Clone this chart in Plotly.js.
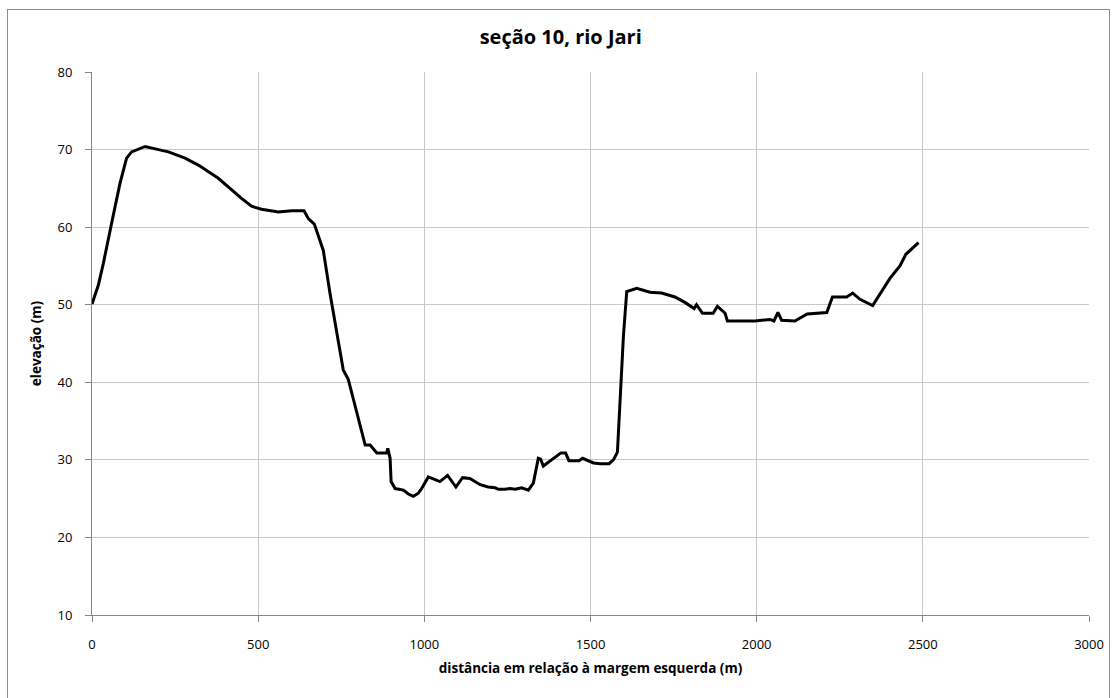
<!DOCTYPE html>
<html>
<head>
<meta charset="utf-8">
<script src="https://cdn.plot.ly/plotly-3.0.1.min.js"></script>
<style>
  html, body { margin: 0; padding: 0; background: #fff; }
  #frame { position: absolute; left: 7px; top: 9px; width: 1103px; height: 700px; border: 1px solid #8c8c8c; box-sizing: border-box; }
  #chart { position: absolute; left: 0; top: 0; width: 1117px; height: 698px; }
</style>
</head>
<body>
<div id="frame"></div>
<div id="chart"></div>
<script>
const distancia = [0, 19, 34, 49, 59, 84, 104, 119, 160, 210, 230, 280, 320, 380, 420, 450, 480, 510, 561, 601, 638, 651, 669, 696, 716, 741, 756, 771, 806, 822, 837, 857, 887, 890, 897, 900, 912, 937, 952, 967, 982, 992, 1012, 1047, 1070, 1095, 1115, 1137, 1168, 1192, 1213, 1223, 1243, 1258, 1273, 1293, 1313, 1328, 1343, 1350, 1358, 1388, 1411, 1425, 1435, 1466, 1476, 1509, 1529, 1556, 1569, 1581, 1589, 1599, 1609, 1639, 1679, 1714, 1754, 1784, 1812, 1819, 1837, 1869, 1882, 1905, 1912, 1995, 2040, 2052, 2064, 2075, 2115, 2152, 2211, 2228, 2271, 2289, 2311, 2326, 2349, 2401, 2431, 2449, 2487];
const elevacao = [50.1, 52.5, 55.3, 58.6, 60.5, 65.6, 68.9, 69.7, 70.4, 69.9, 69.7, 68.9, 68.0, 66.3, 64.8, 63.7, 62.7, 62.3, 61.95, 62.1, 62.1, 61.1, 60.4, 57.0, 51.5, 45.0, 41.6, 40.4, 34.3, 31.9, 31.9, 30.9, 30.9, 31.5, 30.2, 27.2, 26.3, 26.1, 25.6, 25.3, 25.7, 26.3, 27.8, 27.2, 28.0, 26.5, 27.7, 27.6, 26.8, 26.5, 26.4, 26.2, 26.2, 26.3, 26.2, 26.4, 26.1, 27.0, 30.2, 30.1, 29.2, 30.1, 30.9, 30.9, 29.9, 29.9, 30.2, 29.6, 29.5, 29.5, 30.0, 31.0, 38.1, 45.9, 51.7, 52.1, 51.6, 51.5, 51.0, 50.3, 49.5, 50.0, 48.9, 48.9, 49.8, 48.9, 47.9, 47.9, 48.1, 47.9, 49.0, 48.0, 47.9, 48.8, 49.0, 51.0, 51.0, 51.5, 50.7, 50.4, 49.9, 53.4, 55.0, 56.5, 58.0];

const xTicks = [0, 500, 1000, 1500, 2000, 2500, 3000];
const yTicks = [10, 20, 30, 40, 50, 60, 70, 80];
const chartTitle = 'seção 10, rio Jari';
const xTitle = 'distância em relação à margem esquerda (m)';
const yTitle = 'elevação (m)';

const font = '"Open Sans", "Liberation Sans", sans-serif';

const trace = {
  x: distancia,
  y: elevacao,
  type: 'scatter',
  mode: 'lines',
  line: { color: '#000000', width: 3 },
  hoverinfo: 'x+y'
};

const layout = {
  width: 1117,
  height: 698,
  paper_bgcolor: 'rgba(0,0,0,0)',
  plot_bgcolor: '#ffffff',
  margin: { l: 92, r: 28, t: 72, b: 83 },
  showlegend: false,
  title: {
    text: '<b>' + chartTitle + '</b>',
    font: { family: font, size: 20, color: '#000' },
    x: 0.502, xref: 'container', y: 0.947, yref: 'container', xanchor: 'center', yanchor: 'middle'
  },
  xaxis: {
    range: [0, 3000],
    tickvals: xTicks,
    ticktext: xTicks.map(String),
    showgrid: true,
    gridcolor: '#c8c8c8',
    gridwidth: 1,
    zeroline: false,
    showline: true,
    linecolor: '#868686',
    linewidth: 1,
    ticks: 'outside',
    ticklen: 6,
    tickcolor: '#868686',
    tickfont: { family: font, size: 13, color: '#000' },
    ticklabelstandoff: 11,
    title: { text: '<b>' + xTitle + '</b>', font: { family: font, size: 13.5, color: '#000' }, standoff: 11 },
    fixedrange: true
  },
  yaxis: {
    range: [10, 80],
    tickvals: yTicks,
    ticktext: yTicks.map(String),
    showgrid: true,
    gridcolor: '#c8c8c8',
    gridwidth: 1,
    zeroline: false,
    showline: true,
    linecolor: '#868686',
    linewidth: 1,
    ticks: 'outside',
    ticklen: 6,
    tickcolor: '#868686',
    tickfont: { family: font, size: 13, color: '#000' },
    ticklabelstandoff: 10,
    title: { text: '<b>' + yTitle + '</b>', font: { family: font, size: 13.5, color: '#000' }, standoff: 12 },
    fixedrange: true
  }
};

Plotly.newPlot('chart', [trace], layout, { displayModeBar: false, staticPlot: true });
</script>
</body>
</html>
